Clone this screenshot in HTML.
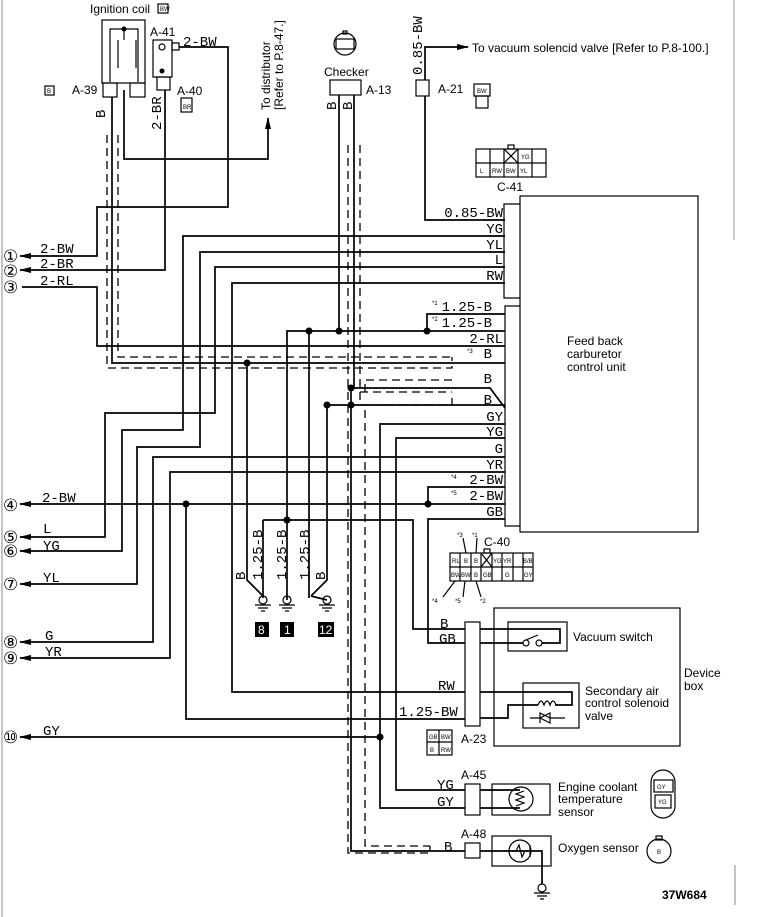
<!DOCTYPE html>
<html><head><meta charset="utf-8"><style>
html,body{margin:0;padding:0;background:#fff;}
svg{display:block;}
.w{stroke:#000;stroke-width:1.7;fill:none;}
.t{stroke:#000;stroke-width:1.2;fill:none;}
.d{stroke:#000;stroke-width:1.3;fill:none;stroke-dasharray:8,5;}
.m{font-family:"Liberation Mono",monospace;font-size:14px;}
.s{font-family:"Liberation Sans",sans-serif;font-size:12px;}
.x{font-family:"Liberation Sans",sans-serif;font-size:6px;}
.c{font-family:"DejaVu Sans",sans-serif;font-size:17px;}
</style></head><body>
<svg width="757" height="917" viewBox="0 0 757 917" xmlns="http://www.w3.org/2000/svg">
<defs><marker id="a" markerUnits="userSpaceOnUse" markerWidth="12" markerHeight="8" refX="11" refY="4" orient="auto"><path d="M0,1L12,4L0,7z" fill="#000"/></marker></defs>
<line x1="2" y1="0" x2="2" y2="917" stroke="#888" stroke-width="1"/>
<line x1="734" y1="0" x2="734" y2="240" stroke="#999" stroke-width="1"/>

<!-- ignition coil -->
<text x="90" y="13" class="s">Ignition coil</text>
<rect x="158" y="4" width="10" height="9" class="t"/><text x="160" y="11" class="x">BW</text>
<rect x="102" y="20" width="43" height="63" class="t"/>
<path class="t" d="M110,82V29H138V82 M124,29V40 M118,40v28 M136,40v28"/>
<circle cx="124" cy="29" r="2.5"/>
<rect x="103" y="83" width="14" height="14" class="t"/>
<rect x="130" y="83" width="15" height="14" class="t"/>
<text x="72" y="94" class="s">A-39</text>
<rect x="45" y="86" width="9" height="9" class="t"/><text x="47" y="93" class="x">B</text>
<rect x="153" y="40" width="19" height="37" class="t"/>
<rect x="157" y="77" width="13" height="13" class="t"/>
<rect x="172" y="43" width="7" height="7" class="t"/>
<circle cx="162" cy="47" r="3" class="t"/><circle cx="162" cy="71" r="2.5"/>
<text x="150" y="36" class="s">A-41</text>
<text x="177" y="95" class="s">A-40</text>
<rect x="181" y="98" width="11" height="14" class="t"/><text x="183" y="109" class="x">BR</text>
<text x="183" y="46" class="m">2-BW</text>
<path class="w" d="M179,47H228V207H97V256H20" marker-end="url(#a)"/>
<path class="w" d="M165,90V270H20" marker-end="url(#a)"/>
<path class="w" d="M124,90V159H268V118" marker-end="url(#a)"/>
<text transform="translate(270,110) rotate(-90)" class="s">To distributor</text>
<text transform="translate(283,110) rotate(-90)" class="s">[Refer to P.8-47.]</text>
<text transform="translate(105,118) rotate(-90)" class="m">B</text>
<text transform="translate(161,130) rotate(-90)" class="m">2-BR</text>

<!-- left numbered terminals -->
<g class="c">
<text x="3" y="262">①</text><text x="3" y="277">②</text><text x="3" y="293">③</text>
<text x="3" y="511">④</text><text x="3" y="543">⑤</text><text x="3" y="557">⑥</text>
<text x="3" y="590">⑦</text><text x="3" y="648">⑧</text><text x="3" y="664">⑨</text><text x="3" y="743">⑩</text>
</g>
<text x="40" y="253" class="m">2-BW</text><text x="40" y="268" class="m">2-BR</text><text x="40" y="285" class="m">2-RL</text>
<text x="42" y="502" class="m">2-BW</text><text x="43" y="533" class="m">L</text><text x="43" y="550" class="m">YG</text>
<text x="43" y="582" class="m">YL</text><text x="45" y="640" class="m">G</text><text x="45" y="656" class="m">YR</text><text x="43" y="735" class="m">GY</text>

<!-- Checker -->
<circle cx="345" cy="44" r="11" class="t"/><rect x="336" y="39" width="18" height="10" class="t"/><rect x="343" y="31" width="4" height="3" class="t"/>
<text x="324" y="76" class="s">Checker</text>
<rect x="330" y="80" width="31" height="15" class="t"/><text x="366" y="94" class="s">A-13</text>
<text transform="translate(336,110) rotate(-90)" class="m" font-size="12">B</text>
<text transform="translate(352,110) rotate(-90)" class="m" font-size="12">B</text>

<!-- A-21 -->
<rect x="416" y="80" width="13" height="16" class="t"/><text x="438" y="93" class="s">A-21</text>
<text transform="translate(422,75) rotate(-90)" class="m">0.85-BW</text>
<path class="w" d="M425,96V220H505 M425,80V47H468" marker-end="url(#a)"/>
<text x="472" y="52" class="s">To vacuum solencid valve [Refer to P.8-100.]</text>
<rect x="474" y="84" width="16" height="12" class="t"/><rect x="476" y="96" width="12" height="12" class="t"/><text x="477" y="93" class="x">BW</text>

<!-- C-41 diagram -->
<g class="t"><rect x="476" y="149" width="70" height="28"/><path d="M476,163H546M490,149V177M504,149V177M518,149V177M532,149V177M504,149L518,163M518,149L504,163"/><rect x="508" y="145" width="6" height="4"/></g>
<text x="521" y="159" class="x">YG</text><text x="480" y="173" class="x">L</text><text x="492" y="173" class="x">RW</text><text x="506" y="173" class="x">BW</text><text x="520" y="173" class="x">YL</text>
<text x="497" y="191" class="s">C-41</text>

<!-- control unit -->
<rect x="520" y="196" width="178" height="336" class="t"/>
<path class="t" d="M520,204H504V298H520 M520,306H505V526H520"/>
<text x="567" y="345" class="s">Feed back</text><text x="567" y="358" class="s">carburetor</text><text x="567" y="371" class="s">control unit</text>
<text x="484" y="546" class="s">C-40</text>

<g class="m" text-anchor="end">
<text x="503" y="217">0.85-BW</text><text x="503" y="233">YG</text><text x="503" y="249">YL</text><text x="503" y="264">L</text><text x="503" y="280">RW</text>
<text x="492" y="311">1.25-B</text><text x="492" y="327">1.25-B</text><text x="503" y="343">2-RL</text><text x="492" y="358">B</text>
<text x="492" y="383">B</text><text x="492" y="404">B</text><text x="503" y="421">GY</text><text x="503" y="436">YG</text>
<text x="503" y="453">G</text><text x="503" y="469">YR</text><text x="503" y="484">2-BW</text><text x="503" y="500">2-BW</text><text x="503" y="516">GB</text>
</g>
<g class="x" font-size="8"><text x="432" y="305">*1</text><text x="432" y="321">*2</text><text x="467" y="353">*3</text><text x="451" y="479">*4</text><text x="451" y="495">*5</text></g>

<path class="w" d="M505,236H183V430H122V551H20" marker-end="url(#a)"/>
<path class="w" d="M505,252H200V447H137V584H20" marker-end="url(#a)"/>
<path class="w" d="M505,267H215V413H105V537H20" marker-end="url(#a)"/>
<path class="w" d="M505,283H232V692H465"/>
<path class="w" d="M505,314H427V331"/>
<path class="w" d="M505,331H287V600"/>
<path class="w" d="M309,331V598"/>
<path class="w" d="M22,287H97V346H505"/>
<path class="w" d="M112,97V363H505"/>
<path class="w" d="M247,363V580L263,596"/>
<path class="w" d="M339,95V331 M354,95V388H490L505,408 M327,405H505 M327,405V580L311,596 M263,520V598 M263,520H413V629H465"/>
<path class="w" d="M351,388V851H465"/>
<path class="w" d="M505,424H380V808H465"/>
<path class="w" d="M505,438H396V790H465"/>
<path class="w" d="M505,457H153V642H20" marker-end="url(#a)"/>
<path class="w" d="M505,472H170V658H20" marker-end="url(#a)"/>
<path class="w" d="M505,487H428V504 M505,504H20" marker-end="url(#a)"/>
<path class="w" d="M186,504V719H465"/>
<path class="w" d="M505,519H428V643H465"/>
<path class="w" d="M380,737H20" marker-end="url(#a)"/>
<g><circle cx="427" cy="331" r="3.5"/><circle cx="339" cy="331" r="3.5"/><circle cx="309" cy="331" r="3.5"/><circle cx="247" cy="363" r="3.5"/>
<circle cx="351" cy="388" r="3.5"/><circle cx="351" cy="405" r="3.5"/><circle cx="327" cy="405" r="3.5"/><circle cx="186" cy="504" r="3.5"/>
<circle cx="428" cy="504" r="3.5"/><circle cx="287" cy="520" r="3.5"/><circle cx="380" cy="737" r="3.5"/></g>
<path class="d" d="M107,135V368H452V357 M118,135V357H452"/>
<path class="d" d="M348,145V853H430V846 M360,145V405H452V398 M360,392H452 M365,410V846H430"/>
<path class="d" d="M365,392V380H452"/>

<g class="t">
<circle cx="263" cy="600" r="4"/><path d="M255,605H271M258,608H268M261,611H265"/>
<circle cx="287" cy="600" r="4"/><path d="M279,605H295M282,608H292M285,611H289"/>
<circle cx="327" cy="600" r="4"/><path d="M319,605H335M322,608H332M325,611H329"/>
</g>
<path class="w" d="M311,596L327,600"/>
<rect x="255" y="622" width="14" height="15"/><text x="258" y="634" fill="#fff" class="s" font-size="11">8</text>
<rect x="280" y="622" width="14" height="15"/><text x="284" y="634" fill="#fff" class="s" font-size="11">1</text>
<rect x="318" y="622" width="16" height="15"/><text x="319" y="634" fill="#fff" class="s" font-size="11">12</text>
<g class="m" font-size="13">
<text transform="translate(245,580) rotate(-90)">B</text><text transform="translate(262,580) rotate(-90)">1.25-B</text>
<text transform="translate(286,580) rotate(-90)">1.25-B</text><text transform="translate(309,580) rotate(-90)">1.25-B</text>
<text transform="translate(325,580) rotate(-90)">B</text></g>

<g class="t"><rect x="450" y="553" width="83" height="28"/><path d="M450,567H533M460,553V581M471,553V581M481,553V581M492,553V581M502,553V581M513,553V581M523,553V581M481,553L492,567M492,553L481,567"/><rect x="484" y="549" width="6" height="4"/>
<path d="M466,553L463,538M476,553L477,538M455,581L443,597M465,581L463,597M476,581L481,597"/></g>
<g class="x"><text x="452" y="563">RL</text><text x="464" y="563">B</text><text x="474" y="563">B</text><text x="493" y="563">YG</text><text x="503" y="563">YR</text><text x="523" y="563">B/B</text>
<text x="451" y="577">BW</text><text x="461" y="577">BW</text><text x="474" y="577">B</text><text x="483" y="577">GB</text><text x="505" y="577">G</text><text x="524" y="577">GY</text></g>
<g class="x" font-size="8"><text x="457" y="537">*3</text><text x="472" y="537">*1</text><text x="432" y="603">*4</text><text x="455" y="603">*5</text><text x="480" y="603">*2</text></g>

<rect x="494" y="608" width="186" height="138" class="t"/>
<text x="684" y="677" class="s">Device</text><text x="684" y="690" class="s">box</text>
<rect x="465" y="622" width="15" height="104" class="t"/>
<text x="440" y="628" class="m">B</text><text x="439" y="643" class="m">GB</text><text x="438" y="690" class="m">RW</text><text x="399" y="716" class="m">1.25-BW</text>
<text x="461" y="743" class="s">A-23</text>
<g class="t"><rect x="427" y="730" width="25" height="25"/><path d="M439,730V755M427,742H452"/></g>
<g class="x" font-size="5"><text x="429" y="739">GB</text><text x="441" y="739">BW</text><text x="430" y="752">B</text><text x="441" y="752">RW</text></g>
<rect x="508" y="622" width="59" height="29" class="t"/>
<path class="w" d="M480,629H560V643H542 M480,643H523"/>
<circle cx="526" cy="643" r="3" class="t"/><circle cx="539" cy="643" r="3" class="t"/><path class="t" d="M526,640L538,635"/>
<text x="573" y="641" class="s">Vacuum switch</text>
<rect x="523" y="683" width="56" height="45" class="t"/>
<path class="w" d="M480,692H572V705H555 M480,718H508V705H538"/>
<path class="t" d="M538,705q3,-8 6,0q3,-8 6,0q3,-8 6,0 M530,718H540L550,713V723L540,718 M550,718L540,713V723 M550,718H565"/>
<text x="585" y="695" class="s">Secondary air</text><text x="585" y="707" class="s">control solenoid</text><text x="585" y="720" class="s">valve</text>

<text x="461" y="779" class="s">A-45</text>
<text x="437" y="789" class="m">YG</text><text x="437" y="806" class="m">GY</text>
<rect x="465" y="784" width="15" height="31" class="t"/>
<rect x="492" y="784" width="58" height="31" class="t"/>
<path class="w" d="M480,790H520 M480,808H520"/>
<circle cx="521" cy="799" r="12" class="t" fill="#fff"/><path class="t" d="M516,806l8,-3l-8,-3l8,-3l-8,-3l8,-3"/>
<text x="558" y="791" class="s">Engine coolant</text><text x="558" y="803" class="s">temperature</text><text x="558" y="816" class="s">sensor</text>
<rect x="651" y="770" width="24" height="48" rx="12" class="t"/>
<rect x="654" y="780" width="19" height="12" class="t"/><rect x="655" y="795" width="16" height="13" class="t"/>
<text x="657" y="789" class="x">GY</text><text x="658" y="804" class="x">YG</text>

<text x="461" y="838" class="s">A-48</text><text x="444" y="851" class="m">B</text>
<rect x="465" y="843" width="15" height="15" class="t"/>
<rect x="492" y="836" width="59" height="30" class="t"/>
<path class="w" d="M480,851H542V884"/>
<circle cx="520" cy="851" r="11" class="t" fill="#fff"/><path class="t" d="M512,851h4l3,-6l3,12l3,-6h3M530,845V857"/>
<circle cx="542" cy="888" r="4" class="t"/><path class="t" d="M534,893H550M537,896H547M540,899H544"/>
<text x="558" y="852" class="s">Oxygen sensor</text>
<circle cx="659" cy="851" r="12" class="t"/><rect x="656" y="836" width="6" height="4" class="t"/><text x="657" y="854" class="x">B</text>

<text x="662" y="899" class="s" font-size="9" font-weight="bold">37W684</text>
<line x1="735" y1="865" x2="735" y2="905" stroke="#888"/>
</svg>
</body></html>
